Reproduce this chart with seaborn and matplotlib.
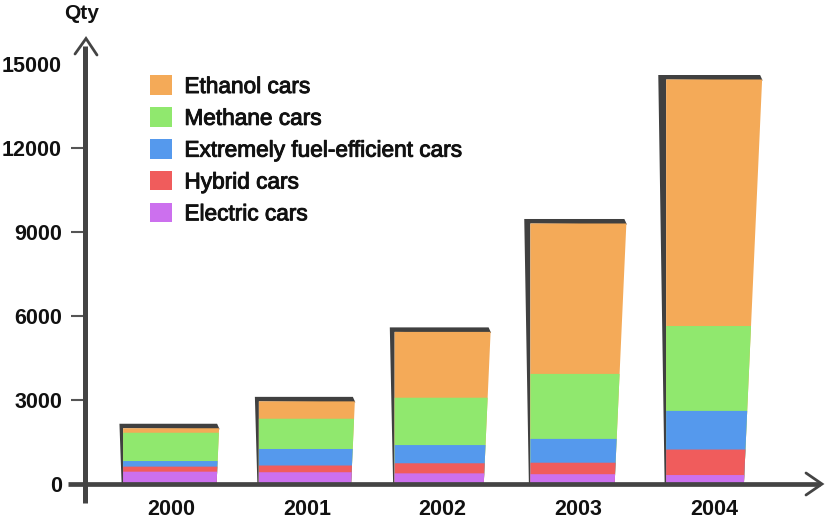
import numpy as np
import pandas as pd
import matplotlib
matplotlib.use("Agg")
import matplotlib.pyplot as plt
import matplotlib.patheffects as pe
import seaborn as sns
from matplotlib.patches import Patch, Polygon, Rectangle

# ---- data ----
years = ["2000", "2001", "2002", "2003", "2004"]
electric = [440, 420, 380, 350, 320]
hybrid = [180, 240, 360, 410, 910]
efficient = [200, 590, 650, 850, 1380]
methane = [1010, 1080, 1690, 2320, 3030]
ethanol = [160, 620, 2350, 5370, 8800]
series_names = ["Electric cars", "Hybrid cars", "Extremely fuel-efficient cars",
                "Methane cars", "Ethanol cars"]
series_colors = ["#CC70EE", "#F05C5C", "#5599ED", "#90E86E", "#F4AA58"]
yticks = [0, 3000, 6000, 9000, 12000, 15000]
y_label = "Qty"

sns.set_theme(style="white")
plt.rcParams["font.family"] = ["Liberation Sans", "DejaVu Sans"]

W, H = 825, 521
fig = plt.figure(figsize=(W / 100, H / 100), dpi=100)
ax = fig.add_axes([68 / W, 37 / H, 755 / W, 448.2 / H])

values = np.array([electric, hybrid, efficient, methane, ethanol], dtype=float)
cum = np.cumsum(values, axis=0)
totals = cum[-1]

df = pd.DataFrame({"year": years})
for i in range(len(series_names) - 1, -1, -1):
    df["cum"] = cum[i]
    sns.barplot(data=df, x="year", y="cum", color=series_colors[i], width=0.707,
                saturation=1, ax=ax, linewidth=0, zorder=3)

ax.set_xlim(-0.7595, 4.802)
ax.set_ylim(0, 16000)
ax.set_xlabel("")
ax.set_ylabel("")

tr = ax.transData
inv = tr.inverted()


def to_data(pts_disp):
    return inv.transform(np.array(pts_disp))


def px(xp, yp_top):
    """figure pixel (from top-left) -> data coords"""
    return inv.transform((xp, H - yp_top))


# hand-drawn look: slanted right edge + dark shadow
k = 0.045
rects = [p for p in ax.patches if isinstance(p, Rectangle)]
bar_geom = {}
for p in rects:
    x0, w, h = p.get_x(), p.get_width(), p.get_height()
    idx = int(round(x0 + w / 2))
    T = tr.transform((0, totals[idx]))[1]
    lx, by = tr.transform((x0, 0))
    rx, ty = tr.transform((x0 + w, h))
    poly = [(lx, by), (rx - k * (T - by), by), (rx - k * (T - ty), ty), (lx, ty)]
    ax.add_patch(Polygon(to_data(poly), closed=True, facecolor=p.get_facecolor(),
                         edgecolor="none", zorder=3))
    bar_geom[idx] = (lx, rx, by, T)
    p.remove()

for idx, (lx, rx, by, T) in bar_geom.items():
    hpx = T - by
    s_top = 3 + 0.012 * hpx
    u = 4.5
    shadow = [(lx - 1.5, by), (lx - s_top, T + u), (rx - 2, T + u), (rx + 0.5, T - 1),
              (lx, T), (lx, by)]
    ax.add_patch(Polygon(to_data(shadow), closed=True, facecolor="#404040",
                         edgecolor="none", zorder=2))

# axes lines with open arrow heads
axis_color = "#444444"
xa = px(85, 0)[0]
ybot = px(0, 503)[1]
ytop = px(0, 46)[1]
ax.plot([xa, xa], [ybot, ytop], color=axis_color, lw=3.6, solid_capstyle="butt",
        clip_on=False, zorder=5)
a1, a2, a3 = px(75, 54), px(86, 38.5), px(97, 55)
ax.plot([a1[0], a2[0], a3[0]], [a1[1], a2[1], a3[1]], color=axis_color, lw=2,
        clip_on=False, zorder=5, solid_joinstyle="miter")

xl = px(68, 0)[0]
xr = px(820, 0)[0]
ax.plot([xl, xr], [0, 0], color=axis_color, lw=3.4, solid_capstyle="butt",
        clip_on=False, zorder=5)
b1, b2, b3 = px(806, 473), px(822, 484), px(806, 495)
ax.plot([b1[0], b2[0], b3[0]], [b1[1], b2[1], b3[1]], color=axis_color, lw=2,
        clip_on=False, zorder=5, solid_joinstyle="miter")

for s in ax.spines.values():
    s.set_visible(False)
ax.spines["left"].set_position(("data", xa))

ax.set_yticks(yticks)
ax.set_yticklabels([str(v) for v in yticks], fontsize=15.5, fontweight="bold",
                   color="#111111")
ax.tick_params(axis="y", left=True, length=10, width=1.5, color="#555555",
               direction="out", pad=6.5)
ticks = ax.yaxis.get_major_ticks()
ticks[0].tick1line.set_visible(False)
ticks[-1].tick1line.set_visible(False)

ax.set_xticks(range(len(years)))
ax.set_xticklabels(years, fontsize=15.5, fontweight="bold", color="#111111")
ax.tick_params(axis="x", bottom=False, length=0, pad=11)

fig.text(82 / W, 1 - 13.5 / H, y_label, ha="center", va="center", fontsize=15,
         fontweight="bold", color="#111111")

handles = [Patch(facecolor=c, edgecolor="none") for c in series_colors[::-1]]
leg = ax.legend(handles, series_names[::-1], loc="upper left",
                bbox_to_anchor=(150 / W, 1 - 75 / H), bbox_transform=fig.transFigure,
                frameon=False, fontsize=16.3, handlelength=0.95, handleheight=0.95,
                handletextpad=0.57, labelspacing=0.39, borderpad=0, borderaxespad=0)
for t in leg.get_texts():
    t.set_color("#111111")
    t.set_path_effects([pe.withStroke(linewidth=0.7, foreground="#111111")])

ax.set_facecolor("white")
fig.patch.set_facecolor("white")
fig.savefig("out.png", dpi=100)
